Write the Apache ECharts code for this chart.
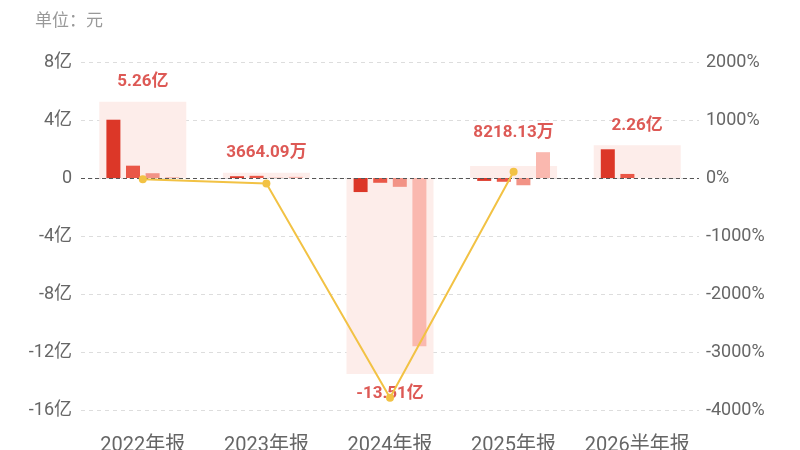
<!DOCTYPE html>
<html>
<head>
<meta charset="utf-8">
<script src="https://cdn.jsdelivr.net/npm/echarts@6/dist/echarts.min.js"></script>
<style>
  html, body { margin: 0; padding: 0; background: #fff; }
  #chart { width: 800px; height: 450px; }
</style>
</head>
<body>
<div id="chart"></div>
<script>
// 报告期
const categories = ['2022年报', '2023年报', '2024年报', '2025年报', '2026半年报'];
// 全年合计（亿元）
const totals = [5.26, 0.366409, -13.51, 0.821813, 2.26];
// 单季度（亿元）
const q1 = [4.02, 0.12, -0.97, -0.2, 1.98];
const q2 = [0.85, 0.15, -0.33, -0.26, 0.28];
const q3 = [0.33, 0.02, -0.61, -0.5, null];
const q4 = [0.06, 0.08, -11.6, 1.78, null];
// 同比增长（%）
const growth = [-21.5, -93.03, -3787.1, 106.4, null];

const FONT = 'Roboto, "Noto Sans CJK SC", sans-serif';

// 合计标签：亿 / 万
const fmtAmount = (v) => Math.abs(v) >= 1 ? v.toFixed(2) + '亿' : (v * 10000).toFixed(2) + '万';

// 标签锚点放在该期所有柱子的最外侧
const anchors = totals.map((t, i) => {
  const vals = [t, q1[i], q2[i], q3[i], q4[i]].filter(v => v != null);
  return t >= 0 ? Math.max(...vals) : Math.min(...vals);
});

const chart = echarts.init(document.getElementById('chart'));

const quarterColors = ['#DC3728', '#EA5747', '#F29386', '#FAB8AF'];
const quarterSeries = [q1, q2, q3, q4].map((d, i) => ({
  type: 'bar',
  xAxisIndex: 0,
  yAxisIndex: 0,
  barWidth: 14,
  barGap: '40%',
  z: 3,
  itemStyle: { color: quarterColors[i] },
  data: d
}));

const option = {
  animation: false,
  grid: { left: 81, right: 101, top: 62, bottom: 40, containLabel: false, outerBoundsMode: 'none' },
  graphic: [{
    type: 'text',
    left: 35,
    top: 13,
    style: { text: '单位：元', fill: '#999', font: '17px ' + FONT }
  }],
  xAxis: [
    {
      type: 'category',
      data: categories,
      axisLine: { show: false, onZero: false },
      axisTick: { show: false },
      axisLabel: { interval: 0, color: '#666', fontSize: 20, margin: 26, fontFamily: FONT }
    },
    {
      type: 'category',
      data: categories,
      show: false
    }
  ],
  yAxis: [
    {
      type: 'value',
      min: -16,
      max: 8,
      interval: 4,
      axisLine: { show: false },
      axisTick: { show: false },
      axisLabel: {
        color: '#666', fontSize: 18, margin: 9, fontFamily: FONT,
        formatter: v => v === 0 ? '0' : v + '亿'
      },
      splitLine: { lineStyle: { color: '#DDDDDD', type: [4, 4] } }
    },
    {
      type: 'value',
      min: -4000,
      max: 2000,
      interval: 1000,
      axisLine: { show: false },
      axisTick: { show: false },
      axisLabel: {
        color: '#666', fontSize: 18, margin: 7, fontFamily: FONT,
        formatter: v => v + '%'
      },
      splitLine: { show: false }
    }
  ],
  series: [
    {
      type: 'bar',
      xAxisIndex: 1,
      yAxisIndex: 0,
      barWidth: 87,
      z: 1,
      itemStyle: { color: '#FDEDEA' },
      data: totals,
      markLine: {
        silent: true,
        symbol: 'none',
        label: { show: false },
        lineStyle: { color: '#555', type: [4, 3], width: 1 },
        data: [{ yAxis: 0 }]
      }
    },
    ...quarterSeries,
    {
      type: 'scatter',
      xAxisIndex: 0,
      yAxisIndex: 0,
      symbolSize: 0,
      z: 4,
      data: anchors.map((v, i) => ({
        value: v,
        label: { position: totals[i] >= 0 ? 'top' : 'bottom' }
      })),
      label: {
        show: true,
        distance: 11,
        color: '#D4302A',
        fontSize: 17,
        fontWeight: 'bold',
        fontFamily: FONT,
        formatter: p => fmtAmount(totals[p.dataIndex])
      }
    },
    {
      type: 'line',
      xAxisIndex: 0,
      yAxisIndex: 1,
      z: 5,
      symbol: 'circle',
      symbolSize: 8,
      lineStyle: { color: '#F2C244', width: 2 },
      itemStyle: { color: '#F2C244' },
      data: growth
    }
  ]
};

chart.setOption(option);
</script>
</body>
</html>
